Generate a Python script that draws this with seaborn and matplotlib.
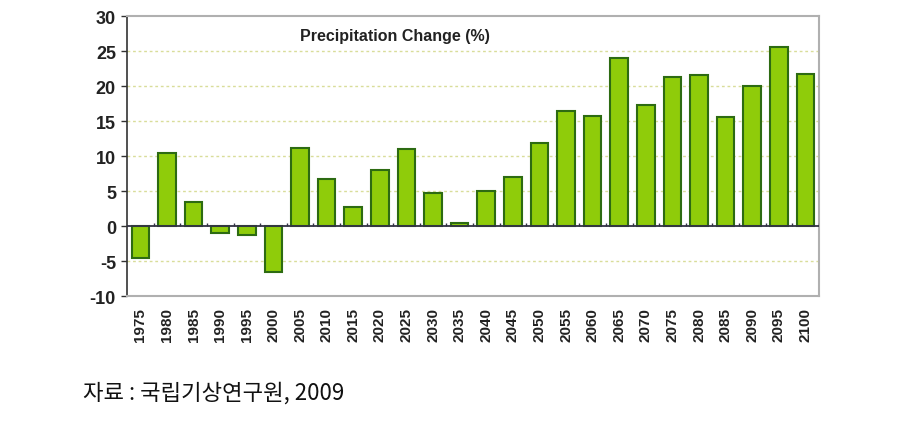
import numpy as np
import pandas as pd
import matplotlib.pyplot as plt
import seaborn as sns

years = ['1975', '1980', '1985', '1990', '1995', '2000', '2005', '2010', '2015',
         '2020', '2025', '2030', '2035', '2040', '2045', '2050', '2055', '2060',
         '2065', '2070', '2075', '2080', '2085', '2090', '2095', '2100']
change = [-4.6, 10.4, 3.5, -1.0, -1.3, -6.5, 11.1, 6.7, 2.8,
          8.0, 11.0, 4.7, 0.4, 5.0, 7.0, 11.9, 16.5, 15.7,
          24.0, 17.3, 21.3, 21.6, 15.6, 20.0, 25.6, 21.8]
y_ticks = [-10, -5, 0, 5, 10, 15, 20, 25, 30]

df = pd.DataFrame({'Year': years, 'Change': change})

sns.set_style('white')
plt.rcParams['font.family'] = ['Liberation Sans', 'DejaVu Sans']

fig = plt.figure(figsize=(9.21, 4.27), dpi=100)
ax = fig.add_axes([0.138, 0.304, 0.751, 0.656])

sns.barplot(data=df, x='Year', y='Change', color='#8fcc0a', saturation=1,
            edgecolor='#2d6b12', linewidth=1.5, width=0.66, ax=ax, zorder=3)

ax.set_ylim(-10, 30)
ax.set_xlim(-0.5, len(years) - 0.5)
ax.set_yticks(y_ticks)
ax.set_yticklabels([str(t) for t in y_ticks], fontsize=13, fontweight='bold', color='#222222')
ax.tick_params(axis='y', length=4, width=1, color='#333333', pad=4, left=True)
ax.tick_params(axis='x', length=0, pad=8)
plt.setp(ax.get_xticklabels(), rotation=90, fontsize=11, fontweight='bold', color='#222222')

for t in y_ticks:
    if t not in (-10, 0, 30):
        ax.axhline(t, color='#d9dd9a', linestyle=(0, (2, 2)), linewidth=1, zorder=1)
ax.axhline(0, color='#333344', linewidth=1.3, zorder=4)
ax.vlines(np.arange(len(years)) + 0.5, 0, 0.5, color='#333344', linewidth=1, zorder=4)

for side in ['top', 'right', 'bottom']:
    ax.spines[side].set_color('#b0b0b0')
    ax.spines[side].set_linewidth(1.5)
ax.spines['left'].set_color('#333333')
ax.spines['left'].set_linewidth(1.2)

ax.set_xlabel('')
ax.set_ylabel('')
ax.text(0.25, 0.93, 'Precipitation Change (%)', transform=ax.transAxes,
        fontsize=11.5, fontweight='bold', color='#222222', va='center', ha='left')

fig.text(0.09, 0.08, '자료 : 국립기상연구원, 2009', fontsize=16,
         family=['Noto Sans CJK KR', 'DejaVu Sans'], color='#111111', va='center')

fig.savefig('out.png', dpi=100)
